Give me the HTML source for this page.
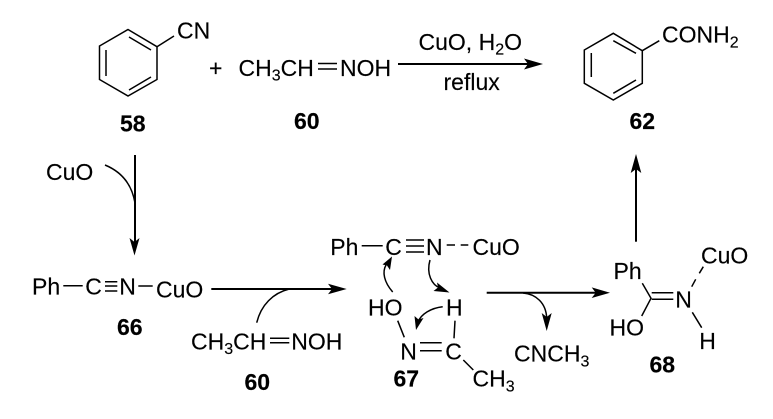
<!DOCTYPE html>
<html>
<head>
<meta charset="utf-8">
<style>
html,body{margin:0;padding:0;background:#fff;}
svg{display:block;}
text{font-family:"Liberation Sans",sans-serif;font-size:23px;fill:#000;stroke:#000;stroke-width:0.15;}
.b{font-weight:bold;}
.s{font-size:16px;}
.bond{stroke:#000;stroke-width:1.5;fill:none;}
.arr{stroke:#000;stroke-width:2;fill:none;}
.cur{stroke:#000;stroke-width:1.5;fill:none;}
</style>
</head>
<body>
<svg width="773" height="419" viewBox="0 0 773 419" xmlns="http://www.w3.org/2000/svg">
<!-- benzene 58 -->
<path class="bond" d="M128 29.500L157 46.700V79.500L128 96L99.500 79.500V46Z"/>
<path class="bond" d="M106 50V76M129 37L151 50M129 90L151 77M157 46.700L174 36"/>
<text x="177" y="38.500">CN</text>
<text x="209" y="76">+</text>
<text x="238.500" y="76">CH<tspan class="s" dy="4.500">3</tspan><tspan dy="-4.500">CH</tspan></text>
<path class="bond" d="M318 63.500H337M318 69H337"/>
<text x="340" y="76">NOH</text>
<text class="b" x="120" y="131.700">58</text>
<text class="b" x="294" y="129">60</text>
<!-- top arrow -->
<text x="418.500" y="50">CuO, H<tspan class="s" dy="4.500">2</tspan><tspan dy="-4.500">O</tspan></text>
<path class="arr" d="M398 64H530"/>
<path d="M543 64L524 58.500L528 64L524 69.500Z"/>
<text x="443.500" y="90">reflux</text>
<!-- benzene 62 -->
<path class="bond" d="M613.300 33.300L642.300 50.700V83.300L613.300 100L584.300 83.300V50Z"/>
<path class="bond" d="M591.300 53V77M613.300 40.700L636 53.300M613.300 93.300L636 80M642.300 50.700L659.300 40.700"/>
<text x="662" y="42.300">CONH<tspan class="s" dy="5">2</tspan></text>
<text class="b" x="629.500" y="129">62</text>
<!-- vertical arrow up -->
<path class="arr" d="M636 241.700V168"/>
<path d="M636 154L630.700 173L636 169L641.300 173Z"/>
<!-- CuO addition and down arrow -->
<text x="46" y="180">CuO</text>
<path class="cur" d="M105 165C122 172 132 185 135 203"/>
<path class="arr" d="M135 155V242"/>
<path d="M134.500 255.500L129.500 238L134.500 242L139.500 238Z"/>
<!-- 66 -->
<text x="32" y="294.300">Ph</text>
<path class="bond" d="M63.300 285.700H82.700"/>
<text x="85.300" y="294.300">C</text>
<path class="bond" d="M105 281.700H117.300M105 286H117.300M105 291H117.300"/>
<text x="119.300" y="294.300">N</text>
<path class="bond" d="M138.300 286H152.700"/>
<text x="156" y="297.300">CuO</text>
<text class="b" x="117" y="335">66</text>
<path class="arr" d="M211.300 289H333"/>
<path d="M346.700 289L328 283.700L332 289L328 294.300Z"/>
<path class="cur" d="M256.700 322.700C261 305 273 293 289.300 289"/>
<text x="191" y="349.300">CH<tspan class="s" dy="4.500">3</tspan><tspan dy="-4.500">CH</tspan></text>
<path class="bond" d="M270 338.300H289.300M270 342.700H289.300"/>
<text x="291.300" y="349.300">NOH</text>
<text class="b" x="244.500" y="390">60</text>
<!-- 67 -->
<text x="330.300" y="255">Ph</text>
<path class="bond" d="M361.700 245.700H382.700"/>
<text x="385.300" y="255">C</text>
<path class="bond" d="M406 240H424M406 246H424M406 252H424"/>
<text x="426" y="255">N</text>
<path class="bond" d="M446.700 245H455M460.700 245H468.300"/>
<text x="472.500" y="255">CuO</text>
<path class="cur" d="M392.700 292C384 282 382 272 386 265"/>
<path d="M392 256.500L382.500 264.500L387 265.500L390 270Z"/>
<path class="cur" d="M430 260C426 274 432 285 440 288"/>
<path d="M449.500 292.500L437 282.500L438 287.500L433.500 291Z"/>
<path class="cur" d="M442.700 306.700C431 308 421 314 418 322"/>
<path d="M416 330L414.500 316L418.500 319.500L423.500 318Z"/>
<text x="368" y="315.700">HO</text>
<text x="446" y="315.700">H</text>
<path class="bond" d="M397.700 320.700L404.300 337.300M455 320.700L454 338.300"/>
<text x="400.300" y="359.300">N</text>
<path class="bond" d="M420 342.700H441.700M420 350.700H441.700"/>
<text x="445.300" y="359.300">C</text>
<path class="bond" d="M463.300 360L473.300 370"/>
<text x="472.500" y="386.700">CH<tspan class="s" dy="5">3</tspan></text>
<text class="b" x="393.500" y="386.700">67</text>
<!-- arrow to 68 -->
<path class="arr" d="M486.700 292.700H597"/>
<path d="M610 292.700L591.700 287.400L595.700 292.700L591.700 298Z"/>
<path class="cur" d="M523 293C536 294 546 303 546.700 318"/>
<path d="M546.700 331L541.700 313L546.700 317L551.700 313Z"/>
<text x="514" y="361.700">CNCH<tspan class="s" dy="5">3</tspan></text>
<!-- 68 -->
<text x="613.500" y="279">Ph</text>
<path class="bond" d="M642.300 283.300L651 298.300L641.700 316"/>
<path class="bond" d="M651.700 292.700H673.300M651.700 299.300H673.300"/>
<text x="675.300" y="307.300">N</text>
<path class="bond" d="M691.700 286.700L695.700 279.300M699.300 273.300L703.300 266.700M692.300 312.300L701.700 327.700"/>
<text x="701" y="263.300">CuO</text>
<text x="609.500" y="335.300">HO</text>
<text x="699.300" y="349">H</text>
<text class="b" x="649.500" y="372.300">68</text>
</svg>
</body>
</html>
